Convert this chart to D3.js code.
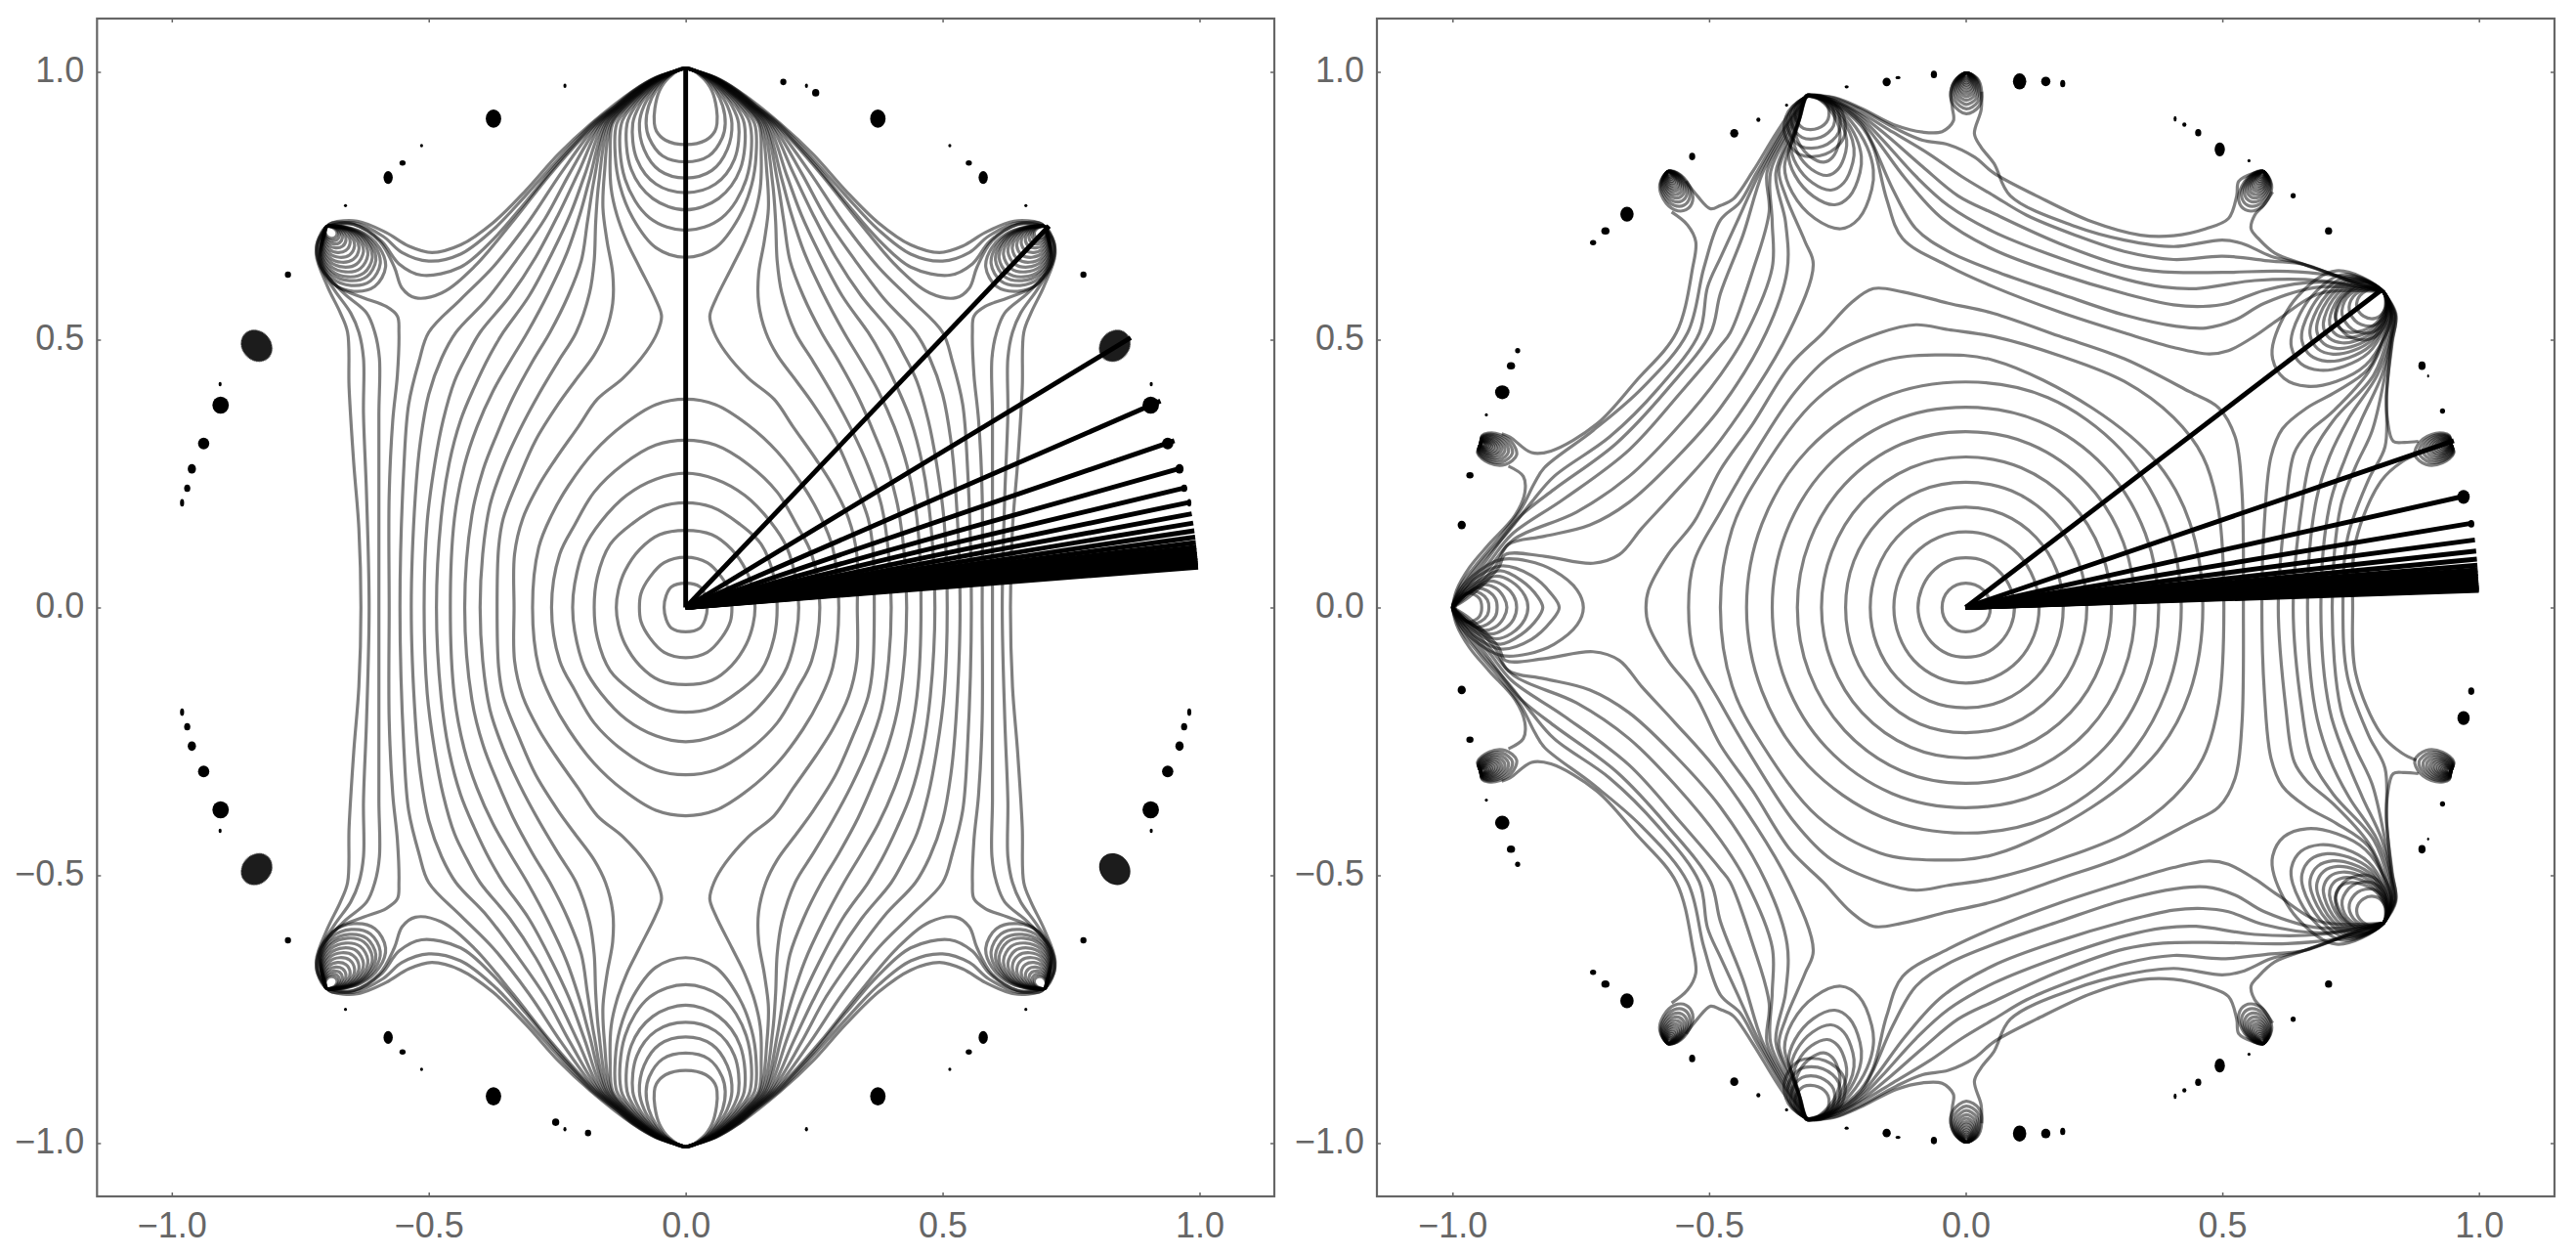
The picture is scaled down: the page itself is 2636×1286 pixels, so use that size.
<!DOCTYPE html>
<html><head><meta charset="utf-8">
<script src="https://cdn.jsdelivr.net/npm/d3@7"></script>
<style>html,body{margin:0;background:#fff}svg{display:block}text{font-family:"Liberation Sans",Arial,sans-serif}</style>
</head><body><svg id="c" width="2636" height="1286"><defs><filter id="soft" x="-5%" y="-5%" width="110%" height="110%"><feGaussianBlur stdDeviation="0.55"/></filter></defs></svg>
<script>
const tickValues=[-1,-0.5,0,0.5,1];
const leftRayAngles=[90,45,30,22.5,18,15,12.86,11.25,10,9,8.18,7.5,6.92,6.43,6,5.63,5.29,5,4.74,4.5,4.29];
const rightRayAngles=[36,18,12,9,7.2,6,5.14,4.5,4,3.6,3.27,3,2.77,2.57,2.4,2.25,2.12,2,1.89,1.8];

// LEFT PANEL: one quadrant of each level curve
const leftOriginLoops=[
[0,45,28,38,38,22,42,0],
[0,93,42,83,70,56,87,26,90,0],
[0,143,51,135,89,108,118,68,131,32,135,0],
[0,194,51,186,103,156,147,117,172,56,178,0],
[0,249,58,238,115,208,165,159,197,111,216,44,220,0],
[0,310,58,301,122,265,178,214,216,153,245,99,261,0],
[0,386,58,376,122,338,178,289,228,226,261,171,286,111,298,0]];
const leftPoleOvals=[
[0,858,39,866,57,883,61,897,60,925,51,958,33,982,0,1000],
[0,826,45,837,71,870,77,897,72,930,58,958,37,982,0,1000],
[0,796,51,810,81,849,90,897,81,930,63,958,39,982,0,1000],
[0,769,58,785,95,831,103,897,90,930,68,958,41,982,0,1000],
[0,737,64,758,106,812,114,897,97,930,71,958,43,982,0,1000],
[0,699,70,722,118,794,125,897,103,930,75,958,45,982,0,1000],
[0,649,58,667,103,722,128,782,137,837,134,897,108,930,78,958,46,982,0,1000]];
const leftLongCurves=[
[334,0,333,99,317,165,286,226,254,274,209,335,172,386,122,425,77,474,55,510,47,540,58,570,90,631,115,679,134,728,145,776,147,837,142,897,113,930,81,958,47,982,0,1000],
[367,0,364,111,355,165,323,244,292,310,248,377,216,419,178,468,156,510,142,564,142,619,153,679,161,740,158,806,145,897,116,930,83,958,48,982,0,1000],
[400,0,395,99,381,189,355,262,323,329,286,395,248,456,213,510,187,583,178,643,175,716,169,788,149,897,118,930,85,958,49,982,0,1000],
[430,0,416,171,394,256,367,322,336,389,298,456,264,510,229,577,203,643,191,716,178,794,153,897,121,930,86,958,50,982,0,1000],
[458,0,450,165,431,262,406,335,375,401,342,456,308,510,267,583,232,655,206,728,187,794,156,897,123,930,88,958,51,982,0,1000],
[485,0,476,165,460,268,438,347,412,407,381,468,355,510,305,577,261,655,225,728,197,800,160,897,125,930,90,958,52,982,0,1000],
[509,0,503,159,488,268,472,347,450,419,425,468,400,510,342,577,292,649,248,728,209,806,164,897,127,930,92,958,53,982,0,1000],
[534,0,526,208,516,310,500,395,475,462,447,510,387,571,330,643,273,722,225,806,167,897,129,930,93,958,54,982,0,1000],
[556,0,548,268,539,377,519,456,500,510,438,571,375,631,305,716,242,806,171,897,131,930,95,958,55,982,0,1000],
[577,0,577,208,570,347,561,431,558,510,561,540,583,558,627,574,678,595,706,631,713,673,699,706],
[597,0,597,208,597,359,596,462,605,510,621,546,666,583,710,631,716,673,699,706],
[616,0,621,208,627,359,627,462,636,510,652,546,684,589,713,637,718,673,699,706],
[632,0,636,147,646,268,655,407,658,510,672,546,697,595,719,655,709,695,699,706]];
const leftDipCurves=[
[0,1000,59,982,102,958,184,897,248,840,311,773,375,713,438,672,494,658,539,670,583,695,639,716,688,713,699,706],
[0,1000,58,982,101,958,137,930,181,897,248,831,311,764,375,700,438,655,500,642,552,658,589,688,646,713,699,706],
[0,1000,57,982,99,958,135,930,177,897,248,825,311,752,375,682,438,631,514,616,558,637,592,679,646,710,699,706],
[0,1000,56,982,97,958,133,930,174,897,261,806,336,716,412,631,475,583,526,574,552,592,567,631,596,679,646,710,688,713,699,706]];
const leftCornerLoop=[699,706,633,697,596,667,584,631,605,595,646,586,687,601,712,643,705,691];
const leftCornerScales=[1,.91,.835,.775,.7,.625,.55,.475,.4,.33,.27,.22,.18];
// x,y,rx,ry (and tilt in degrees, where one is visible) of the isolated spots
const leftSpots=[[374,906,15,17],[514,856,3,3],[551,824,6,5],[579,797,9,12],[662,745,3,3],[774,617,6,6],[835,485,33,27,-48],[905,375,16,16],[938,304,11,11],[906,414,3,4],[961,257,8,9],[970,221,6,7],[980,194,4,7],[235,967,3,4]];
const leftSpotsDiagonal=[[190,974,6,6],[253,954,7,7]];

// RIGHT PANEL: upper half of each level curve
const rightOriginLoops=[
[-46,0,-43,17,-33,32,-17,42,0,45,18,42,35,32,45,17,48,0],
[-93,0,-86,34,-67,64,-35,86,0,92,36,86,68,64,88,34,95,0],
[-140,0,-130,52,-101,98,-53,130,0,140,54,130,103,98,133,52,143,0],
[-186,0,-173,69,-134,130,-71,173,0,186,72,173,137,130,177,69,190,0],
[-234,0,-218,86,-168,162,-89,216,0,232,90,216,170,162,219,86,236,0],
[-281,0,-261,103,-202,195,-107,259,0,279,108,259,204,195,264,103,284,0],
[-328,0,-305,121,-236,228,-125,303,0,326,125,303,238,228,307,121,330,0],
[-377,0,-351,137,-271,260,-143,345,0,371,143,345,271,260,350,137,376,0],
[-427,0,-397,155,-307,293,-162,389,0,418,160,389,302,293,391,155,420,0],
[-478,0,-455,146,-396,255,-288,388,-167,455,-60,468,55,458,246,370,373,268,436,159,462,0],
[-540,0,-529,86,-478,177,-415,280,-332,400,-262,467,-167,509,-97,524,-34,515,55,502,182,467,309,419,405,352,462,280,493,177,503,0],
[-623,0,-618,32,-580,98,-529,159,-478,255,-415,340,-342,449,-278,509,-224,564,-180,591,-123,585,-34,564,55,545,182,503,309,461,436,400,493,370,525,316,538,219,541,0]];
const rightLeftPoleLoops=[
[-745,0,-757,32,-802,68,-853,86,-904,89,-948,68,-986,32,-1000,0],
[-792,0,-808,26,-846,59,-904,77,-948,59,-986,26,-1000,0],
[-824,0,-834,20,-866,50,-907,68,-948,50,-986,23,-1000,0],
[-853,0,-859,22,-885,48,-916,58,-951,43,-986,19,-1000,0],
[-875,0,-881,22,-901,41,-926,49,-958,35,-986,16,-1000,0],
[-894,0,-900,19,-916,36,-939,42,-963,30,-988,12,-1000,0],
[-913,0,-916,16,-932,31,-951,36,-972,25,-990,10,-1000,0],
[-929,0,-932,14,-945,26,-961,30,-980,20,-992,8,-1000,0],
[-943,0,-948,17,-968,27,-987,17,-995,0]];
const rightToRightPole=[
[577,0,582,159,595,280,617,331,665,370,722,400,785,443,817,509,827,545,814,585],
[609,0,624,189,640,286,665,322,716,364,785,437,820,509,829,545,814,585],
[638,0,655,189,674,280,716,346,795,431,824,509,830,545,814,585],
[666,0,681,189,709,280,747,352,802,431,827,503,832,545,814,585],
[692,0,709,189,741,280,773,352,811,431,829,503,834,545,814,585],
[714,0,731,189,760,262,792,328,817,431,830,503,836,545,814,585],
[735,0,744,129,785,237,817,298,820,400,831,491,838,545,814,585],
[754,0,760,123,809,234,850,270,878,283],
[882,308,855,306,833,308,822,346,820,388,830,491,838,540,814,585]];
const rightBridgeCurves=[
[-310,949,-269,944,-205,917,-142,881,-72,841,-8,799,55,763,119,727,214,690,309,660,405,645,500,651,595,642,659,636,754,603,814,585],
[-310,949,-256,940,-205,913,-154,875,-84,817,-15,763,55,730,182,675,309,633,385,622,500,621,627,623,754,609,814,585],
[-310,949,-256,938,-205,908,-164,869,-97,799,-34,745,55,696,182,648,309,609,385,594,449,591,563,606,690,606,814,585],
[-310,949,-256,936,-205,903,-173,866,-116,793,-46,721,55,663,182,618,309,582,405,561,462,558,512,564,582,588,690,603,814,585],
[-310,949,-256,934,-205,899,-183,863,-142,775,-97,702,-34,660,55,624,182,582,309,542,411,521,468,518,525,533,582,564,690,594,814,585],
[-310,949,-256,932,-205,894,-180,853,-154,757,-123,684,-34,633,55,594,182,548,309,509,405,482,474,470,512,476,563,503,608,533,690,582,814,585],
[-310,949,-256,945,-205,926,-135,893,-84,881,-46,882,-24,902,-26,926,-29,956,-18,980,1,991],
[-310,949,-256,944,-205,923,-135,887,-84,866,-34,858,17,835,55,805,138,763,246,715,341,690,405,689,468,702,512,721,528,763,532,790,561,805,580,808],
[31,956,30,922,17,878,30,853,55,823,87,763,214,706,309,681,405,669,500,681,538,675,595,651,659,636,754,603,814,585],
[598,770,580,745,563,727,556,702,570,684,602,657,659,636,754,605,814,585]];
const rightToLeftPole=[
[-545,790,-523,763,-497,739,-478,745,-453,757,-415,808,-370,878,-335,926,-310,949],
[-573,733,-542,709,-526,678,-532,630,-564,509,-643,419,-719,340,-808,290,-846,287,-888,316,-904,322],
[-891,262,-862,243,-859,213,-878,171,-929,117,-967,74,-992,32,-1000,0],
[-310,949,-361,881,-408,805,-440,751,-478,718,-510,630,-542,509,-631,406,-726,328,-821,259,-840,231,-866,183,-904,135,-948,86,-986,38,-1000,0],
[-310,949,-357,881,-402,805,-446,714,-478,648,-503,594,-519,509,-599,406,-694,316,-802,243,-846,195,-891,141,-942,86,-983,35,-1000,0],
[-310,949,-353,881,-396,805,-434,690,-478,582,-497,509,-580,406,-681,304,-802,219,-866,171,-888,147,-935,86,-979,32,-1000,0],
[-310,949,-348,881,-387,808,-383,733,-415,624,-459,509,-478,485,-554,400,-656,292,-783,201,-885,135,-929,83,-977,29,-1000,0],
[-310,949,-344,881,-380,808,-377,714,-377,630,-427,509,-478,431,-567,328,-656,243,-758,177,-881,126,-923,80,-973,26,-1000,0],
[-310,949,-339,881,-370,805,-351,714,-348,624,-389,509,-478,370,-567,274,-656,195,-732,153,-821,132,-891,117,-916,77,-970,23,-1000,0],
[-310,949,-335,881,-364,811,-351,763,-313,678,-297,636,-345,509,-478,310,-567,213,-631,147,-675,98,-726,82,-821,95,-897,98,-910,74,-967,20,-1000,0]];
const rightMainLoop=[-310,949,-331,881,-353,817,-338,769,-294,721,-243,702,-208,721,-183,775,-180,811,-192,853,-224,902,-262,935,-294,949];
const rightMainScales=[1,.82,.71,.6,.5];
const rightMainHole=[-306,948,-328,932,-332,908,-316,888,-288,888,-268,905,-270,932,-288,947];
const rightEastLoop=[814,585,722,624,646,576,601,497,598,461,620,425,665,410,722,419,779,449,817,503,830,539];
const rightEastScales=[1,.83,.735,.66,.6,.54,.485,.43];
const rightEastHole=[814,585,792,591,768,578,762,558,775,540,798,536,814,548,818,568];
const holeScales=[1,1.28,1.55,1.8];
const smallLoopA=[-580,808,-596,784,-589,757,-567,737,-545,737,-532,754,-538,781,-561,805];
const smallLoopB=[-945,304,-951,286,-929,268,-897,265,-875,283,-885,307,-916,323,-942,319];
const smallLoopC=[1,991,-18,980,-29,956,-24,932,1,915,26,929,31,956,23,980];
const smallScales=[1,.88,.77,.67,.58,.5,.43,.36,.3,.25,.2,.16,.12,.08];
const rightSpots=[[-451,879,8,8],[-404,904,4,4],[-349,931,3,3],[-232,965,4,3],[-154,974,8,8],[-132,982,5,3],[-62,988,6,7],[105,975,13,15],[156,975,9,9],[189,971,5,7],[408,906,3,5],[426,895,4,4],[453,880,6,7],[495,849,10,13],[552,828,3,3],[638,763,5,5],[707,698,7,7],[889,448,7,8],[901,429,2,3],[929,364,5,5],[970,205,12,13],[985,155,6,7],[-533,836,6,7],[-660,729,13,14],[-702,698,8,7],[-726,676,6,5],[-873,476,5,5],[-886,448,8,7],[-903,399,14,13],[-934,357,3,3],[-966,245,7,6],[-982,153,8,8]];

const yReadFactor=1.0073; // the read-off grid's y unit versus the tick spacing
const pairs=a=>{const r=[];for(let i=0;i<a.length;i+=2)r.push([a[i]/1000,a[i+1]/1000*yReadFactor]);return r;};
const flip=(pts,sx,sy)=>pts.map(p=>[p[0]*sx,p[1]*sy]);
const rev=pts=>pts.slice().reverse();
const svg=d3.select("#c");

function panel(left,right,xHalf,build,rays){
  const top=19,bottom=1224,yHalf=1.0995;
  const x=d3.scaleLinear().domain([-xHalf,xHalf]).range([left,right]);
  const y=d3.scaleLinear().domain([-yHalf,yHalf]).range([bottom,top]);
  const g=svg.append("g");
  const open=d3.line().x(p=>x(p[0])).y(p=>y(p[1])).curve(d3.curveCatmullRom.alpha(.5));
  const shut=d3.line().x(p=>x(p[0])).y(p=>y(p[1])).curve(d3.curveCatmullRomClosed.alpha(.5));
  const contours=g.append("g").attr("filter","url(#soft)").attr("fill","none").attr("stroke","#000").attr("stroke-opacity",.5).attr("stroke-width",3.2).attr("stroke-linejoin","round");
  const spots=g.append("g").attr("filter","url(#soft)");
  const draw={
    open:pts=>contours.append("path").attr("d",open(pts)),
    shut:pts=>contours.append("path").attr("d",shut(pts)),
    spot:(s,sx,sy)=>{const cx=x(sx*s[0]/1000),cy=y(sy*s[1]/1000*yReadFactor);
      const e=spots.append("ellipse").attr("cx",cx).attr("cy",cy)
       .attr("rx",Math.abs(x(s[2]/1000)-x(0))).attr("ry",Math.abs(y(s[3]/1000)-y(0))).attr("fill",s[4]?"#1c1c1c":"#050505");
      if(s[4])e.attr("transform",`rotate(${s[4]*sx*sy} ${cx} ${cy})`);}
  };
  const nest=(base,scales,sx,sy)=>{const b=flip(pairs(base),sx,sy),p=b[0];
    scales.forEach(s=>draw.shut(b.map(q=>[p[0]+s*(q[0]-p[0]),p[1]+s*(q[1]-p[1])])));};
  build(draw,nest);
  const rayG=g.append("g").attr("stroke","#000").attr("stroke-width",4.9).attr("stroke-linecap","butt");
  rayG.selectAll("line").data(rays).join("line")
    .attr("x1",x(0)).attr("y1",y(0))
    .attr("x2",d=>x(Math.cos(d*Math.PI/180)))
    .attr("y2",d=>y(Math.sin(d*Math.PI/180)*yReadFactor));
  // frame and axes
  const fmt=d3.format(".1f");
  const styleAxis=a=>{a.select(".domain").remove();a.selectAll("line").attr("stroke","#666").attr("stroke-width",1.5);
    a.selectAll("text").attr("fill","#666").attr("font-size",36).attr("font-family",'"Liberation Sans",Arial,sans-serif');};
  svg.append("g").attr("transform",`translate(0,${bottom})`).call(d3.axisBottom(x).tickValues(tickValues).tickFormat(fmt).tickSizeInner(-4).tickSizeOuter(0).tickPadding(14)).call(styleAxis)
     .selectAll("text").attr("dy",0).attr("y",42);
  svg.append("g").attr("transform",`translate(${left},0)`).call(d3.axisLeft(y).tickValues(tickValues).tickFormat(fmt).tickSizeInner(-4).tickSizeOuter(0).tickPadding(13)).call(styleAxis)
     .selectAll("text").attr("dy","0.29em").attr("x",-13);
  svg.append("g").attr("transform",`translate(${right},0)`).call(d3.axisRight(y).tickValues(tickValues).tickFormat("").tickSizeInner(-4).tickSizeOuter(0)).call(styleAxis);
  svg.append("g").attr("transform",`translate(0,${top})`).call(d3.axisTop(x).tickValues(tickValues).tickFormat("").tickSizeInner(-4).tickSizeOuter(0)).call(styleAxis);
  svg.append("rect").attr("x",left).attr("y",top).attr("width",right-left).attr("height",bottom-top).attr("fill","none").attr("stroke","#666").attr("stroke-width",2.2);
}

const both=[[1,1],[-1,1],[-1,-1],[1,-1]];
panel(99.3,1304,1.1455,(draw,nest)=>{
  leftOriginLoops.forEach(a=>{const q=pairs(a);
    draw.shut([...q,...rev(flip(q,1,-1)).slice(1),...flip(q,-1,-1).slice(1),...rev(flip(q,-1,1)).slice(1,-1)]);});
  leftPoleOvals.forEach(a=>{const q=pairs(a);const full=[...q,...rev(flip(q,-1,1)).slice(1,-1)];
    draw.shut(full);draw.shut(flip(full,1,-1));});
  leftLongCurves.forEach(a=>{const q=pairs(a);const full=[...rev(flip(q,1,-1)).slice(0,-1),...q];
    draw.open(full);draw.open(flip(full,-1,1));});
  leftDipCurves.forEach(a=>{const q=pairs(a);both.forEach(s=>draw.open(flip(q,s[0],s[1])));});
  both.forEach(s=>nest(leftCornerLoop,leftCornerScales,s[0],s[1]));
  leftSpots.forEach(s=>both.forEach(b=>draw.spot(s,b[0],b[1])));
  leftSpotsDiagonal.forEach(s=>{draw.spot(s,1,1);draw.spot(s,-1,-1);});
},leftRayAngles);

panel(1409,2614,1.1472,(draw,nest)=>{
  [...rightOriginLoops,...rightLeftPoleLoops].forEach(a=>{const q=pairs(a);
    draw.shut([...q,...rev(flip(q,1,-1)).slice(1,-1)]);});
  rightToRightPole.forEach(a=>{const q=pairs(a);
    if(a[1]===0)draw.open([...rev(flip(q,1,-1)).slice(0,-1),...q]);
    else{draw.open(q);draw.open(flip(q,1,-1));}});
  [...rightBridgeCurves,...rightToLeftPole].forEach(a=>{const q=pairs(a);draw.open(q);draw.open(flip(q,1,-1));});
  [1,-1].forEach(sy=>{
    nest(rightMainLoop,rightMainScales,1,sy);
    nest(rightMainHole,holeScales,1,sy);
    nest(rightEastLoop,rightEastScales,1,sy);
    nest(rightEastHole,holeScales,1,sy);
    nest(smallLoopA,smallScales,1,sy);nest(smallLoopA,smallScales,-1,sy);
    nest(smallLoopB,smallScales,1,sy);nest(smallLoopB,smallScales,-1,sy);
    nest(smallLoopC,smallScales,1,sy);
    rightSpots.forEach(s=>draw.spot(s,1,sy));
  });
},rightRayAngles);
</script></body></html>
